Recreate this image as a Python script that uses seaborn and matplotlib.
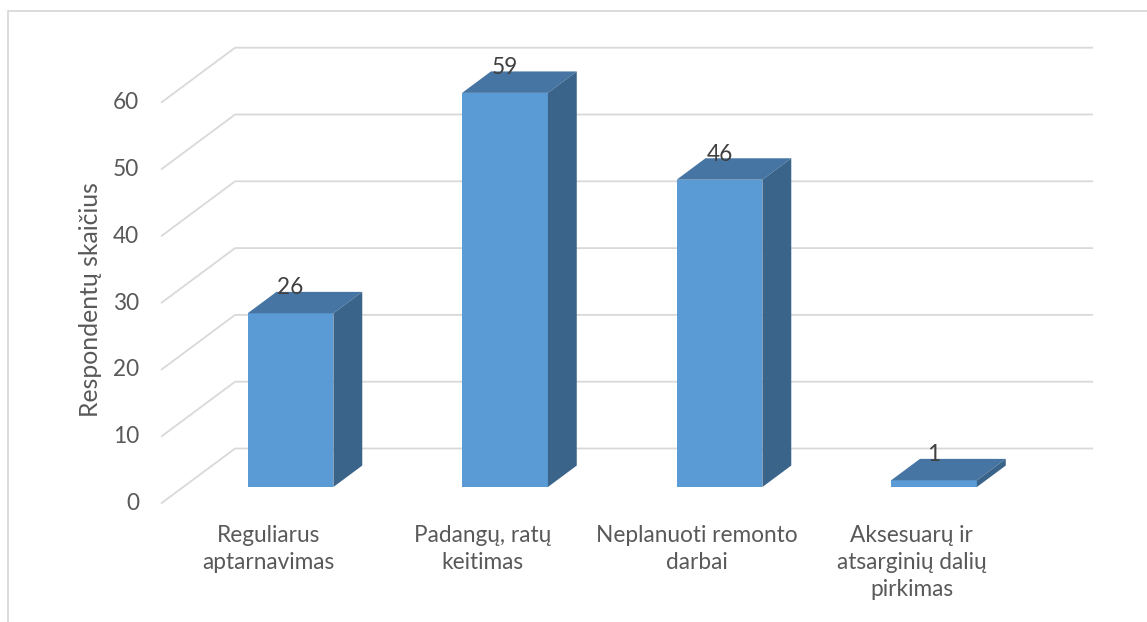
import matplotlib
matplotlib.use("Agg")
import matplotlib.pyplot as plt
from matplotlib.patches import Polygon, Rectangle
import seaborn as sns
import pandas as pd

# Chart data
categories = ["Reguliarus\naptarnavimas", "Padangų, ratų\nkeitimas",
              "Neplanuoti remonto\ndarbai", "Aksesuarų ir\natsarginių dalių\npirkimas"]
values = [26, 59, 46, 1]
y_ticks = [0, 10, 20, 30, 40, 50, 60]
y_label = "Respondentų skaičius"

sns.set_theme(style="white")
plt.rcParams["font.family"] = ["Lato", "DejaVu Sans"]

W, H, DPI = 1147, 622, 100
fig = plt.figure(figsize=(W / DPI, H / DPI), dpi=DPI)
ax = fig.add_axes([0, 0, 1, 1])

# pixel geometry of the pseudo-3D frame
slot_px = 214.5          # width of one category slot
unit_px = 6.68           # pixels per one respondent
x0_px, y0_px = 290.5, 487.0   # centre of first bar / zero line on bar front plane
depth_px = (74.0, -55.0)      # full floor depth (screen dx, dy)
bar_front, bar_back = 0.30, 0.69

def px_dx(p):
    return p / slot_px

def px_dy(p):
    return -p / unit_px

def set_view():
    ax.set_xlim(px_dx(0 - x0_px), px_dx(W - x0_px))
    ax.set_ylim(px_dy(H - y0_px), px_dy(0 - y0_px))
    ax.axis("off")

set_view()

# offsets (data units) of the wall planes relative to bar front plane
def plane(f):
    return (px_dx(depth_px[0] * (f - bar_front)), px_dy(depth_px[1] * (f - bar_front)))

fx, fy = plane(0.0)     # wall front
bx, by = plane(1.0)     # wall back
n = len(values)
left = -0.5
right = n - 0.5
grid_c = "#D9D9D9"
text_c = "#595959"
fs = 16.3

for t in y_ticks:
    ax.plot([left + fx, left + bx, right + bx], [t + fy, t + by, t + by],
            color=grid_c, lw=1.3, zorder=1, solid_capstyle="butt")
    ax.text(left + fx - px_dx(22), t + fy, str(t), ha="right", va="center",
            fontsize=fs, color=text_c)

# bars: front faces
df = pd.DataFrame({"cat": categories, "val": values})
width = 0.4
sns.barplot(data=df, x="cat", y="val", ax=ax, width=width, color="#5B9BD5",
            saturation=1, linewidth=0, zorder=3)
set_view()

ddx, ddy = plane(bar_back)
top_c, side_c = "#4675A3", "#3A648A"
for i, v in enumerate(values):
    xl, xr = i - width / 2, i + width / 2
    ax.add_patch(Polygon([(xl, v), (xr, v), (xr + ddx, v + ddy), (xl + ddx, v + ddy)],
                         closed=True, facecolor=top_c, edgecolor="none", zorder=4))
    ax.add_patch(Polygon([(xr, 0), (xr, v), (xr + ddx, v + ddy), (xr + ddx, ddy)],
                         closed=True, facecolor=side_c, edgecolor="none", zorder=4))
    ax.text(i, v + ddy + px_dy(-4), str(v), ha="center", va="center",
            fontsize=fs, color="#404040", zorder=5)
    ax.text(i + fx, fy + px_dy(22), categories[i], ha="center", va="top",
            fontsize=fs, color=text_c, linespacing=1.33)

ax.text(px_dx(91 - x0_px), px_dy(300 - y0_px), y_label, rotation=90,
        ha="center", va="center", fontsize=17.8, color=text_c)

# chart border
ax.add_patch(Rectangle((px_dx(8 - x0_px), px_dy(700 - y0_px)),
                       px_dx(1300), px_dy(-689), transform=ax.transData,
                       facecolor="none", edgecolor="#D9D9D9", lw=1.3, zorder=0,
                       clip_on=False))

fig.savefig("out.png", dpi=DPI)
